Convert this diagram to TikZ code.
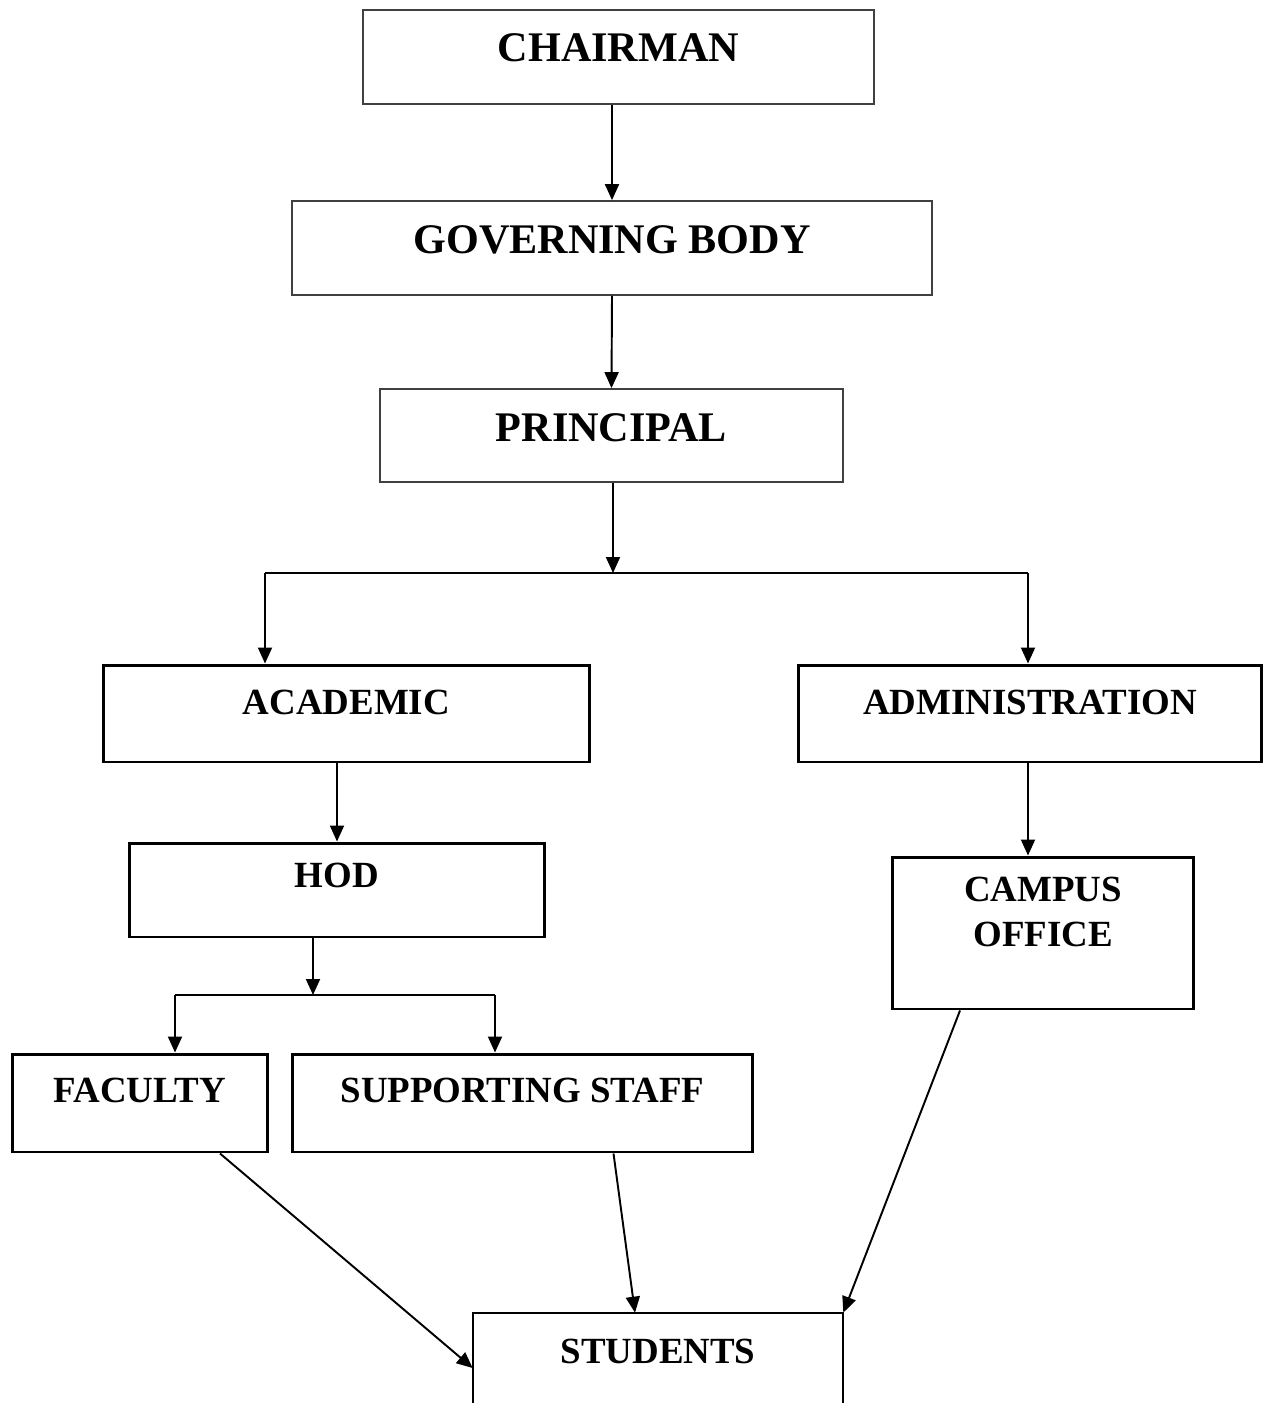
\documentclass[tikz,border=0pt]{standalone}
\usepackage{fontspec}
\setmainfont{Liberation Serif}
\usetikzlibrary{arrows.meta,calc}

\tikzset{
  topbox/.style={draw=black!75, line width=1pt, inner sep=0pt},
  box/.style={draw, line width=1.7pt, inner sep=0pt},
  openbox/.style={line width=1.2pt},
  bigtxt/.style={anchor=base, inner sep=0pt, font=\bfseries\fontsize{24}{28}\selectfont},
  txt/.style={anchor=base, inner sep=0pt, font=\bfseries\fontsize{21}{25}\selectfont},
  arr/.style={line width=1.1pt, -{Triangle[length=0.32cm,width=0.28cm]}},
  branch/.style={line width=1.3pt},
}

\begin{document}
\begin{tikzpicture}[x=0.02cm, y=-0.02cm]
  \useasboundingbox (0,0) rectangle (1263,1403);
  % boxes
  \node[topbox, minimum width=10.22cm, minimum height=1.88cm] (chair) at (618.5,57) {};
  \node[topbox, minimum width=12.8cm, minimum height=1.88cm] (gb) at (612,248) {};
  \node[topbox, minimum width=9.26cm, minimum height=1.86cm] (prin) at (611.5,435.5) {};
  \node[box, minimum width=9.74cm, minimum height=1.94cm] (acad) at (346.5,713.5) {};
  \node[box, minimum width=9.28cm, minimum height=1.94cm] (admin) at (1030,713.5) {};
  \node[box, minimum width=8.32cm, minimum height=1.88cm] (hod) at (337,890) {};
  \node[box, minimum width=6.04cm, minimum height=3.04cm] (campus) at (1043,933) {};
  \node[box, minimum width=5.12cm, minimum height=1.96cm] (fac) at (140,1103) {};
  \node[box, minimum width=9.22cm, minimum height=1.96cm] (sup) at (522.5,1103) {};
  \node[inner sep=0pt, minimum width=7.4cm, minimum height=1.8cm] (stu) at (658,1358) {};
  \draw[openbox] (stu.south west) -- (stu.north west) -- (stu.north east) -- (stu.south east);
  % texts
  \node[bigtxt] (chair-t) at ($(chair.north)+(0,52)$) {CHAIRMAN};
  \node[bigtxt] (gb-t) at ($(gb.north)+(0,53)$) {GOVERNING BODY};
  \node[bigtxt] (prin-t) at ($(prin.north)+(0,53)$) {PRINCIPAL};
  \node[txt] (acad-t) at ($(acad.north)+(0,51)$) {ACADEMIC};
  \node[txt] (admin-t) at ($(admin.north)+(0,51)$) {ADMINISTRATION};
  \node[txt] (hod-t) at ($(hod.north)+(0,46)$) {HOD};
  \node[txt] (campus-t1) at ($(campus.north)+(0,46)$) {CAMPUS};
  \node[txt] (campus-t2) at ($(campus.north)+(0,91)$) {OFFICE};
  \node[txt] (fac-t) at ($(fac.north)+(0,50)$) {FACULTY};
  \node[txt] (sup-t) at ($(sup.north)+(0,50)$) {SUPPORTING STAFF};
  \node[txt] (stu-t) at ($(stu.north)+(0,51)$) {STUDENTS};
  % top chain
  \draw[arr] (gb.north |- chair.south) -- (gb.north);
  \draw[arr] (gb.south) -- (prin.north);
  % principal branch
  \coordinate (split) at (613,573);
  \coordinate (bl) at (265,573);
  \coordinate (br) at (1028,573);
  \draw[arr] (split |- prin.south) -- (split);
  \draw[branch] (bl) -- (br);
  \draw[arr] (bl) -- (bl |- acad.north);
  \draw[arr] (br) -- (br |- admin.north);
  % academic side
  \draw[arr] (hod.north |- acad.south) -- (hod.north);
  \coordinate (split2) at (313,995);
  \coordinate (hl) at (175,995);
  \coordinate (hr) at (495,995);
  \draw[arr] (split2 |- hod.south) -- (split2);
  \draw[branch] (hl) -- (hr);
  \draw[arr] (hl) -- (hl |- fac.north);
  \draw[arr] (hr) -- (hr |- sup.north);
  % administration side
  \draw[arr] (admin.south -| 1028,0) -- (campus.north -| 1028,0);
  % to students
  \draw[arr] ($(fac.south)+(80,0)$) -- ($(stu.west)+(0,10)$);
  \draw[arr] ($(sup.south)+(91,0)$) -- ($(stu.north)+(-23,0)$);
  \draw[arr] ($(campus.south)+(-83,0)$) -- (stu.north east);
\end{tikzpicture}
\end{document}
